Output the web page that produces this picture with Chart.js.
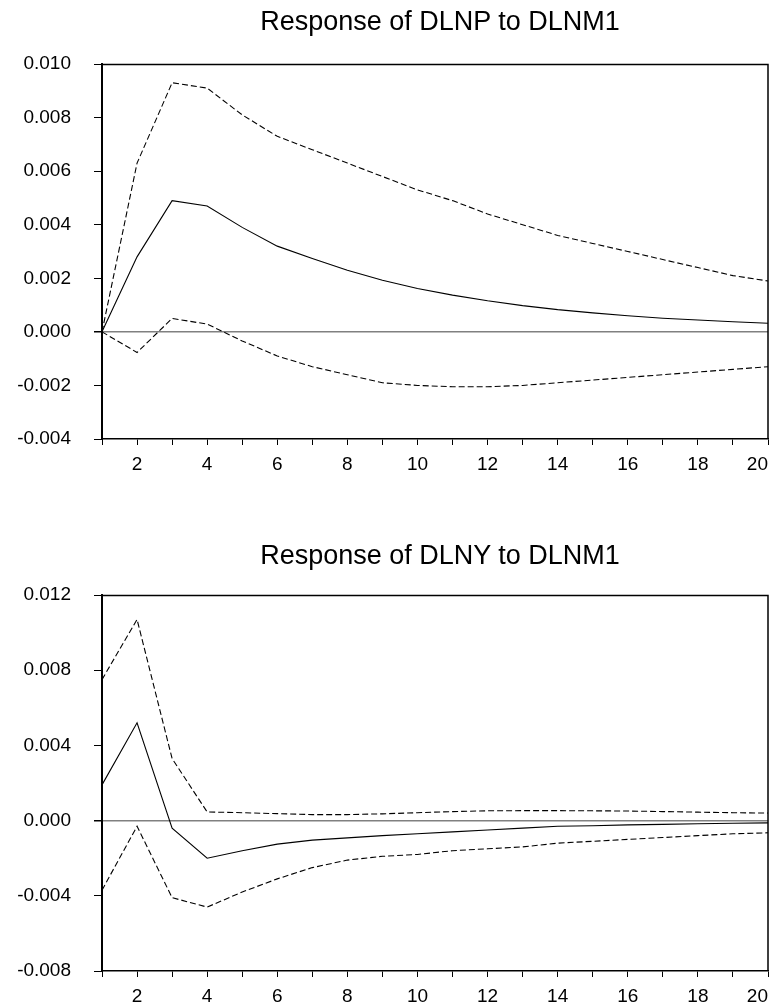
<!DOCTYPE html>
<html>
<head>
<meta charset="utf-8">
<script src="https://cdn.jsdelivr.net/npm/chart.js@4.4.0/dist/chart.umd.min.js"></script>
<style>
  html, body { margin: 0; padding: 0; background: #fff; }
  #wrap { position: relative; width: 776px; height: 1003px; overflow: hidden; }
  canvas { position: absolute; left: 0; }
  .ttl { position: absolute; left: 440px; transform: translateX(-50%); white-space: nowrap;
         font-family: 'Liberation Sans', Arial, Helvetica, sans-serif; font-size: 27px;
         line-height: 30px; color: #000; }
</style>
</head>
<body>
<div id="wrap">
  <canvas id="c1" width="776" height="500" style="top:0px"></canvas>
  <canvas id="c2" width="776" height="503" style="top:500px"></canvas>
  <div id="t1" class="ttl" style="top:6px"></div>
  <div id="t2" class="ttl" style="top:540px"></div>
</div>
<script>
// ---- data ----
const periods = [1,2,3,4,5,6,7,8,9,10,11,12,13,14,15,16,17,18,19,20];

const title1 = "Response of DLNP to DLNM1";
const p_resp  = [0.0000, 0.0028, 0.0049, 0.0047, 0.0039, 0.0032, 0.00274, 0.0023, 0.00193, 0.00162, 0.00137, 0.00116, 0.00098, 0.00083, 0.00071, 0.0006, 0.00051, 0.00044, 0.00038, 0.00032];
const p_upper = [0.0000, 0.0063, 0.0093, 0.0091, 0.0081, 0.0073, 0.0068, 0.0063, 0.0058, 0.0053, 0.0049, 0.0044, 0.0040, 0.0036, 0.0033, 0.0030, 0.0027, 0.0024, 0.0021, 0.0019];
const p_lower = [0.0000, -0.00077, 0.0005, 0.00029, -0.00034, -0.0009, -0.0013, -0.0016, -0.0019, -0.0020, -0.00205, -0.00205, -0.0020, -0.0019, -0.0018, -0.0017, -0.0016, -0.0015, -0.0014, -0.0013];
const p_yticks = { min: -0.004, max: 0.010, step: 0.002 };

const title2 = "Response of DLNY to DLNM1";
const y_resp  = [0.0019, 0.0052, -0.0004, -0.0020, -0.0016, -0.00125, -0.00104, -0.00092, -0.0008, -0.0007, -0.0006, -0.0005, -0.0004, -0.0003, -0.00027, -0.00023, -0.0002, -0.00017, -0.00014, -0.00012];
const y_upper = [0.0075, 0.0107, 0.0033, 0.00046, 0.00042, 0.00037, 0.00032, 0.00032, 0.00036, 0.00042, 0.00048, 0.00052, 0.00053, 0.00053, 0.00052, 0.00051, 0.00048, 0.00045, 0.00042, 0.0004];
const y_lower = [-0.0037, -0.0003, -0.0041, -0.0046, -0.0038, -0.0031, -0.0025, -0.0021, -0.0019, -0.0018, -0.0016, -0.0015, -0.0014, -0.0012, -0.0011, -0.0010, -0.0009, -0.0008, -0.0007, -0.00065];
const y_yticks = { min: -0.008, max: 0.012, step: 0.004 };

// ---- helpers ----
const FONT = "'Liberation Sans', Arial, Helvetica, sans-serif";
document.getElementById('t1').textContent = title1;
document.getElementById('t2').textContent = title2;

const framePlugin = {
  id: 'frame',
  afterDraw(chart) {
    const a = chart.chartArea, ctx = chart.ctx;
    ctx.save();
    ctx.strokeStyle = '#000';
    ctx.lineWidth = 1.5;
    ctx.beginPath();
    ctx.moveTo(a.left, a.top + 0.5);
    ctx.lineTo(a.right, a.top + 0.5);
    ctx.lineTo(a.right, a.bottom);
    ctx.stroke();
    ctx.restore();
  }
};

function makeChart(id, resp, upper, lower, yt, padTop, xAxisH) {
  const ds = (data, dashed) => ({
    data: data,
    borderColor: '#000',
    borderWidth: 1.1,
    borderDash: dashed ? [6, 3] : [],
    pointRadius: 0,
    tension: 0,
    fill: false
  });
  return new Chart(document.getElementById(id), {
    type: 'line',
    data: {
      labels: periods,
      datasets: [ds(resp, false), ds(upper, true), ds(lower, true)]
    },
    plugins: [framePlugin],
    options: {
      responsive: false,
      animation: false,
      devicePixelRatio: 1,
      layout: { padding: { left: 0, right: 8, top: padTop, bottom: 0 } },
      plugins: {
        legend: { display: false },
        tooltip: { enabled: false },
        title: { display: false }
      },
      scales: {
        x: {
          type: 'category',
          offset: false,
          grid: { drawOnChartArea: false, drawTicks: true, tickLength: 6, tickColor: '#000', color: '#000' },
          border: { display: true, color: '#000', width: 1.5 },
          ticks: {
            autoSkip: false,
            maxRotation: 0,
            align: 'inner',
            color: '#000',
            padding: 8,
            font: { family: FONT, size: 19 },
            callback: function(v, i) {
              const l = periods[i];
              return (l % 2 === 0) ? String(l) : '';
            }
          },
          afterFit: function(s) { s.height = xAxisH; s.paddingLeft = 0; s.paddingRight = 0; }
        },
        y: {
          min: yt.min,
          max: yt.max,
          grid: {
            drawOnChartArea: true,
            drawTicks: true,
            tickLength: 8,
            tickColor: '#000',
            color: c => (Math.abs(c.tick.value) < 1e-12 ? '#808080' : 'rgba(0,0,0,0)'),
            lineWidth: c => (Math.abs(c.tick.value) < 1e-12 ? 1.5 : 1)
          },
          border: { display: true, color: '#000', width: 2 },
          ticks: {
            stepSize: yt.step,
            color: '#000',
            padding: 23,
            font: { family: FONT, size: 19 },
            callback: v => Number(v).toFixed(3)
          },
          afterFit: function(s) { s.width = 102; s.paddingTop = 0; s.paddingBottom = 0; }
        }
      }
    }
  });
}

makeChart('c1', p_resp, p_upper, p_lower, p_yticks, 64, 61);
makeChart('c2', y_resp, y_upper, y_lower, y_yticks, 95, 32);
</script>
</body>
</html>
